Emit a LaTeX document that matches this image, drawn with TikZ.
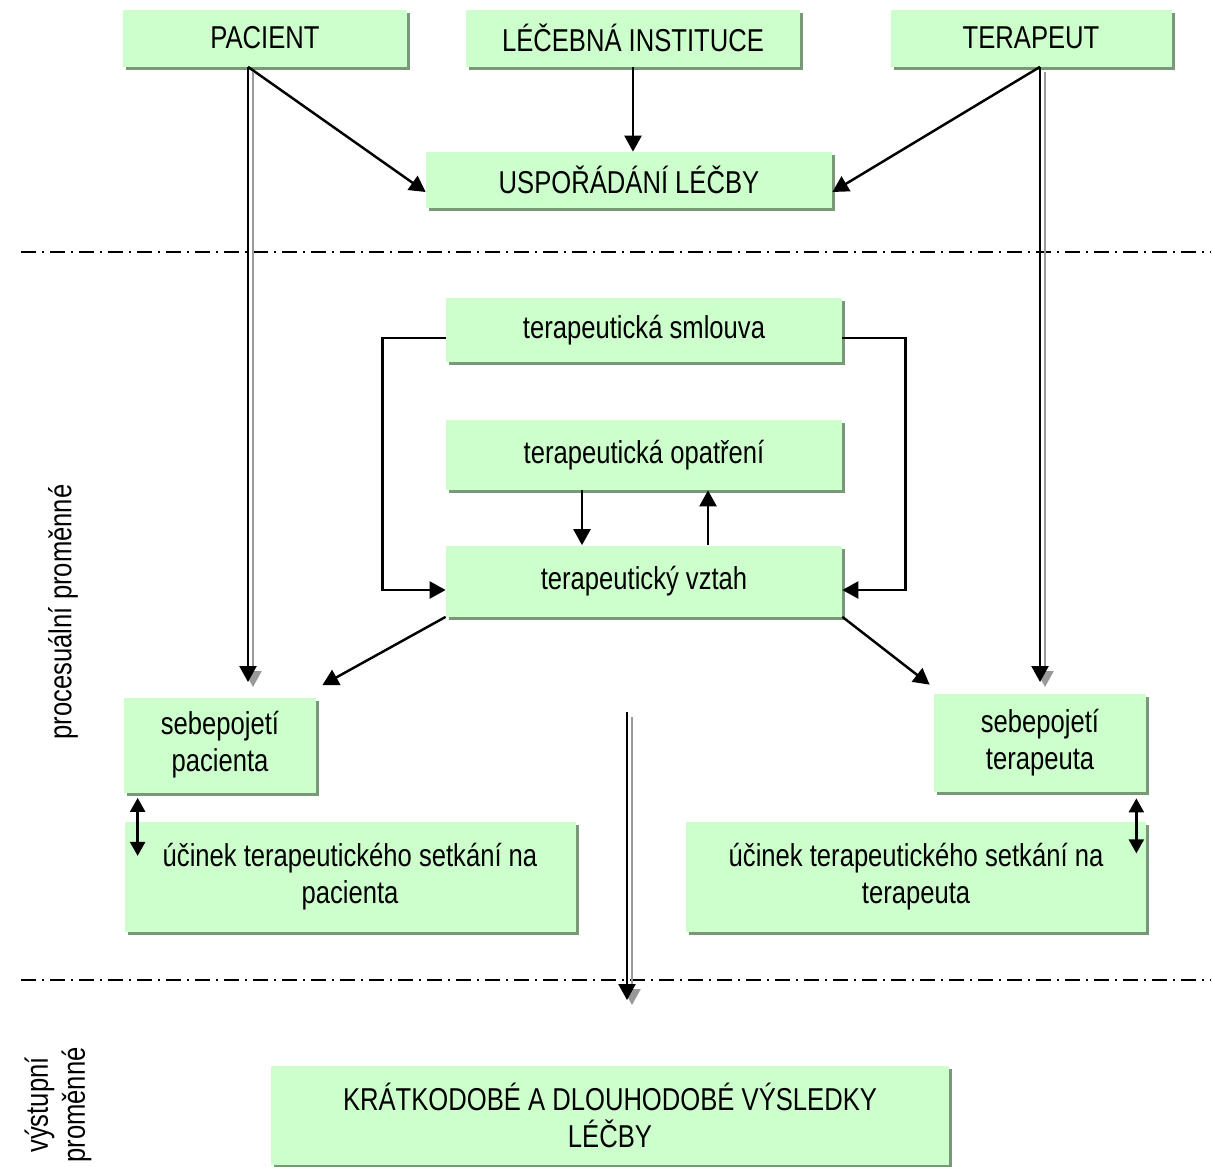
\documentclass[tikz,border=0pt]{standalone}
\usepackage{fontspec}
\setmainfont{Liberation Sans}[FakeStretch=0.81]
\usetikzlibrary{arrows.meta,shadows,calc}
\definecolor{boxgreen}{RGB}{204,255,204}
\definecolor{boxshade}{RGB}{120,152,120}
\tikzset{
  box/.style={fill=boxgreen,minimum width=#1,minimum height=1.14cm,align=center,inner sep=0pt,
    general shadow={fill=boxshade,shadow xshift=0.06cm,shadow yshift=-0.06cm}},
  conn/.style={line width=1.4pt,-{Triangle[length=0.32cm,width=0.34cm]}},
  both/.style={line width=1.4pt,{Triangle[length=0.28cm,width=0.3cm]}-{Triangle[length=0.28cm,width=0.3cm]}},
  shade line/.style={conn,draw=gray!80,transform canvas={xshift=0.1cm,yshift=-0.1cm}},
  sep line/.style={line width=1.1pt,dash pattern=on 8.5pt off 3.4pt on 1.2pt off 3.4pt},
  every picture/.style={font=\fontsize{18}{21}\selectfont},
}

\begin{document}
\begin{tikzpicture}
  \useasboundingbox (0,0) rectangle (24.26,-23.32);
  % input variables
  \node[box=5.68cm] (pacient) at (5.30,-0.76) {PACIENT};
  \node[box=6.68cm] (lecba) at (12.66,-0.76) {LÉČEBNÁ INSTITUCE};
  \node[box=5.62cm] (terapeut) at (20.62,-0.76) {TERAPEUT};
  \node[box=8.12cm,minimum height=1.12cm] (usporadani) at (12.58,-3.60) {USPOŘÁDÁNÍ LÉČBY};

  \draw[sep line] (0.42,-5.04) -- (24.2,-5.04);

  % process variables
  \node[box=7.92cm,minimum height=1.28cm] (smlouva) at (12.88,-6.60) {terapeutická smlouva};
  \node[box=7.92cm,minimum height=1.40cm] (opatreni) at (12.88,-9.10) {terapeutická opatření};
  \node[box=7.92cm,minimum height=1.42cm] (vztah) at (12.88,-11.62) {terapeutický vztah};
  \node[box=3.84cm,minimum height=1.90cm] (sebpac) at (4.40,-14.90) {sebepojetí\\pacienta};
  \node[box=4.24cm,minimum height=1.96cm] (sebter) at (20.80,-14.86) {sebepojetí\\terapeuta};
  \node[box=9.02cm,minimum height=2.20cm] (ucpac) at (7.00,-17.54) {účinek terapeutického setkání na\\pacienta};
  \node[box=9.20cm,minimum height=2.20cm] (ucter) at (18.32,-17.54) {účinek terapeutického setkání na\\terapeuta};
  \node[rotate=90] (proces) at (1.26,-12.24) {procesuální proměnné};

  \draw[sep line] (0.42,-19.60) -- (24.2,-19.60);

  % output variables
  \node[box=13.56cm,minimum height=1.98cm] (vysledky) at (12.20,-22.30) {KRÁTKODOBÉ A DLOUHODOBÉ VÝSLEDKY\\LÉČBY};
  \node[rotate=90,align=center] (vystup) at (1.16,-22.10) {výstupní\\proměnné};

  \coordinate (pacout) at ($(pacient.south)+(-0.34,0)$);
  \coordinate (terout) at ($(terapeut.south)+(0.18,0)$);
  \coordinate (pacend) at (pacout |- 0,-13.64);
  \coordinate (terend) at (terout |- 0,-13.64);
  \coordinate (vysltop) at (12.54,-14.24);
  \coordinate (vyslend) at (12.54,-20.00);

  \draw[conn] (pacout) -- ($(usporadani.west)+(0,-0.24)$);
  \draw[conn] (terout) -- ($(usporadani.east)+(0,-0.24)$);
  \draw[conn] (lecba.south) -- (lecba.south |- usporadani.north);

  \draw[conn] ([yshift=-0.16cm]smlouva.west) -- ++(-1.26,0) |- ([yshift=-0.18cm]vztah.west);
  \draw[conn] ([yshift=-0.16cm]smlouva.east) -- ++(1.26,0) |- ([yshift=-0.18cm]vztah.east);
  \draw[conn] ([xshift=-1.24cm]opatreni.south) -- ([xshift=-1.24cm]vztah.north);
  \draw[conn] ([xshift=1.28cm]vztah.north) -- ([xshift=1.28cm]opatreni.south);
  \draw[conn] (vztah.south west) -- ($(sebpac.north east)+(0.12,0.24)$);
  \draw[conn] (vztah.south east) -- ($(sebter.north west)+(-0.08,0.18)$);

  \draw[both] ([xshift=0.28cm,yshift=-0.1cm]sebpac.south west) -- ++(0,-1.16);
  \draw[both] ([xshift=-0.2cm,yshift=-0.12cm]sebter.south east) -- ++(0,-1.1);

  % long arrows with a grey shadow
  \foreach \a/\b in {pacout/pacend,terout/terend,vysltop/vyslend}{
    \draw[shade line] (\a) -- (\b);
    \draw[conn] (\a) -- (\b);
  }
\end{tikzpicture}
\end{document}
